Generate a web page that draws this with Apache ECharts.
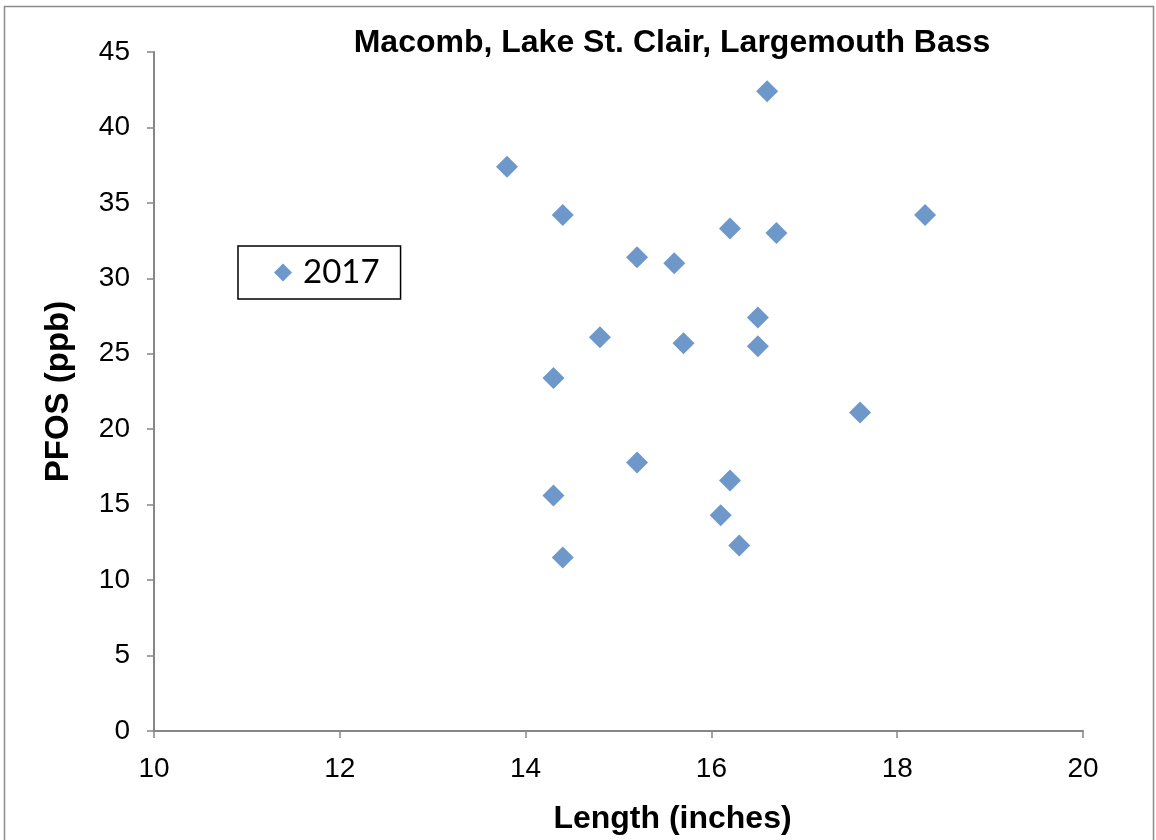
<!DOCTYPE html>
<html>
<head>
<meta charset="utf-8">
<script src="https://cdn.jsdelivr.net/npm/echarts@6/dist/echarts.min.js"></script>
<style>
  html, body { margin: 0; padding: 0; background: #fff; }
  #chart { width: 1156px; height: 840px; }
</style>
</head>
<body>
<div id="chart"></div>
<script>
const chartTitle = 'Macomb, Lake St. Clair, Largemouth Bass';
const xAxisName = 'Length (inches)';
const yAxisName = 'PFOS (ppb)';
const seriesName = '2017';
const lengths = [16.6, 13.8, 14.4, 18.3, 16.2, 16.7, 15.2, 15.6, 16.5, 14.8, 15.7, 16.5, 14.3, 17.6, 15.2, 16.2, 14.3, 16.1, 16.3, 14.4];
const pfos    = [42.4, 37.4, 34.2, 34.2, 33.3, 33.0, 31.4, 31.0, 27.4, 26.1, 25.7, 25.5, 23.4, 21.1, 17.8, 16.6, 15.6, 14.3, 12.3, 11.5];
const xTicks = [10, 12, 14, 16, 18, 20];
const yTicks = [0, 5, 10, 15, 20, 25, 30, 35, 40, 45];

const points = lengths.map((x, i) => [x, pfos[i]]);
const chart = echarts.init(document.getElementById('chart'));
const axisGray = '#868686';
const font = 'Liberation Sans, Arial, sans-serif';

chart.setOption({
  animation: false,
  backgroundColor: '#fff',
  title: {
    text: chartTitle,
    left: 672,
    textAlign: 'center',
    top: 27,
    padding: 0,
    textStyle: { fontFamily: font, fontSize: 32, fontWeight: 'bold', color: '#000' }
  },
  grid: { left: 154, right: 73, top: 52, bottom: 103, containLabel: false },
  legend: {
    left: 238,
    top: 246,
    orient: 'vertical',
    data: [{ name: seriesName, icon: 'diamond' }],
    itemWidth: 18,
    itemHeight: 18,
    padding: [10, 21, 10, 36],
    borderColor: '#000',
    borderWidth: 1.5,
    textStyle: { fontFamily: 'Lato, Carlito, sans-serif', fontSize: 33, color: '#000', padding: [0, 0, 0, 6] }
  },
  xAxis: {
    type: 'value',
    min: xTicks[0],
    max: xTicks[xTicks.length - 1],
    interval: 2,
    name: xAxisName,
    nameLocation: 'middle',
    nameGap: 72,
    nameTextStyle: { fontFamily: font, fontSize: 32, fontWeight: 'bold', color: '#000', padding: [0, 0, 0, 108] },
    axisLine: { show: true, onZero: false, lineStyle: { color: axisGray, width: 2 } },
    axisTick: { show: true, inside: false, length: 7, lineStyle: { color: axisGray, width: 1.5 } },
    axisLabel: { margin: 24, fontFamily: font, fontSize: 28, color: '#000' },
    splitLine: { show: false }
  },
  yAxis: {
    type: 'value',
    min: yTicks[0],
    max: yTicks[yTicks.length - 1],
    interval: 5,
    name: yAxisName,
    nameLocation: 'middle',
    nameGap: 79,
    nameTextStyle: { fontFamily: font, fontSize: 33, fontWeight: 'bold', color: '#000' },
    axisLine: { show: true, onZero: false, lineStyle: { color: axisGray, width: 2 } },
    axisTick: { show: true, inside: false, length: 7, lineStyle: { color: axisGray, width: 1.5 } },
    axisLabel: { margin: 24, fontFamily: font, fontSize: 28, color: '#000' },
    splitLine: { show: false }
  },
  graphic: [{
    type: 'rect',
    shape: { x: 4.5, y: 6.5, width: 1149, height: 900 },
    style: { fill: 'none', stroke: '#8c8c8c', lineWidth: 1.5 },
    silent: true
  }],
  series: [{
    name: seriesName,
    type: 'scatter',
    symbol: 'diamond',
    symbolSize: 22,
    itemStyle: { color: '#4a7ebb' },
    data: points
  }]
});
</script>
</body>
</html>
